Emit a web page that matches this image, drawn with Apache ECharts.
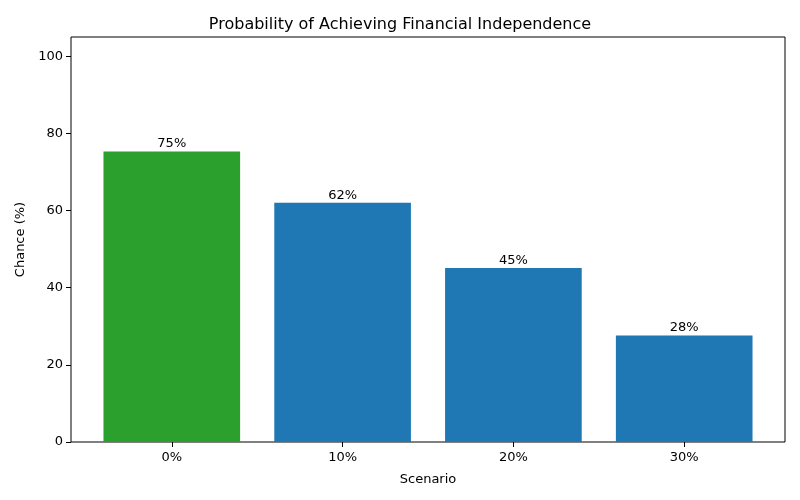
<!DOCTYPE html>
<html><head><meta charset="utf-8">
<script src="https://cdn.jsdelivr.net/npm/echarts@6/dist/echarts.min.js"></script>
<style>html,body{margin:0;padding:0;background:#fff}#c{width:800px;height:500px}</style>
</head><body><div id="c"></div>
<script>
const categories = ['0%', '10%', '20%', '30%'];
const chances = [75.3, 62.0, 45.1, 27.6];
const barColors = ['#2ca02c', '#1f77b4', '#1f77b4', '#1f77b4'];
const yTicks = [0, 20, 40, 60, 80, 100];

const F = 'DejaVu Sans';
const chart = echarts.init(document.getElementById('c'));
const frameLeft = 71, frameRight = 15, gridTop = 37, gridBottom = 58;
const pad = 15.4;
chart.setOption({
  animation: false,
  textStyle: { fontFamily: F },
  title: { text: 'Probability of Achieving Financial Independence', left: 'center', top: 12,
    textStyle: { fontFamily: F, fontSize: 16, fontWeight: 'normal', color: '#000' } },
  grid: [
    { left: frameLeft, right: frameRight, top: gridTop, bottom: gridBottom, show: true, borderColor: '#000', borderWidth: 1, backgroundColor: 'transparent' },
    { left: frameLeft + pad, right: frameRight + pad, top: gridTop, bottom: gridBottom }
  ],
  xAxis: [
    { gridIndex: 0, type: 'value', show: false, min: 0, max: 1 },
    { gridIndex: 1, type: 'category', data: categories,
      axisLine: { show: false },
      axisTick: { show: true, alignWithLabel: true, length: 5, lineStyle: { color: '#000' } },
      axisLabel: { color: '#000', fontSize: 13, margin: 9, fontFamily: F },
      name: 'Scenario', nameLocation: 'middle', nameGap: 31,
      nameTextStyle: { color: '#000', fontSize: 13, fontFamily: F } }
  ],
  yAxis: [
    { gridIndex: 0, type: 'value', show: false, min: 0, max: 105 },
    { gridIndex: 1, type: 'value', min: 0, max: 105, interval: 20, offset: pad,
      splitLine: { show: false },
      axisLine: { show: false },
      axisTick: { show: true, length: 5, lineStyle: { color: '#000' } },
      axisLabel: { color: '#000', fontSize: 13, margin: 8, fontFamily: F, showMaxLabel: false,
        formatter: v => yTicks.includes(v) ? String(v) : '' },
      name: 'Chance (%)', nameLocation: 'middle', nameGap: 41, nameRotate: 90,
      nameTextStyle: { color: '#000', fontSize: 13, fontFamily: F } }
  ],
  series: [{
    type: 'bar', xAxisIndex: 1, yAxisIndex: 1,
    barWidth: '80%',
    data: chances.map((v, i) => ({ value: v, itemStyle: { color: barColors[i] } })),
    label: { show: true, position: 'top', distance: 1, color: '#000', fontSize: 13, fontFamily: F,
      formatter: p => Math.round(p.value) + '%' }
  }]
});
</script></body></html>
